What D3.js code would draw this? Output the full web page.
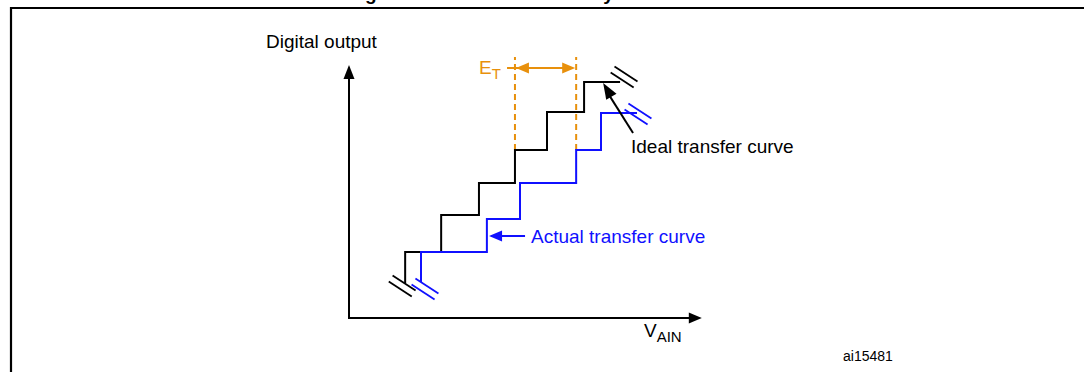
<!DOCTYPE html>
<html>
<head>
<meta charset="utf-8">
<script src="https://cdn.jsdelivr.net/npm/d3@7"></script>
<style>
  body { margin: 0; background: #fff; }
  text { font-family: "Liberation Sans", Arial, sans-serif; }
</style>
</head>
<body>
<div id="chart"></div>
<script>
// Transfer curve figure: ideal vs actual ADC curve, total error E_T

// Ideal curve (units: x in LSB of input, y in output codes)
const idealX = [1.56, 2.56, 3.61, 4.61, 5.5, 6.53, 7.53];
const idealY = [1.94, 3.03, 3.97, 4.94, 6.06, 6.94];
const idealStartY = 1.03;

// Actual curve
const actualX = [2.0, 3.83, 4.75, 6.31, 7.0, 8.0];
const actualY = [1.94, 2.91, 3.97, 4.94, 6.03];
const actualStartY = 1.06;

// E_T marker (two x positions), and the level it drops to
const errorX = [4.61, 6.31];
const errorLevel = 4.94;

// Labels
const yLabel = "Digital output";
const xLabel = "V";
const xLabelSub = "AIN";
const idealLabel = "Ideal transfer curve";
const actualLabel = "Actual transfer curve";
const errorLabel = "E";
const errorLabelSub = "T";
const figId = "ai15481";
const titleText = "Figure 9. Total error accuracy";

const black = "#000";
const blue = "#1010ff";
const orange = "#e8900c";

var svg = d3.select('#chart').append('svg')
    .attr('width', 1084)
    .attr('height', 372);

var x = d3.scaleLinear().domain([0, 10]).range([349, 709]);
var y = d3.scaleLinear().domain([0, 7]).range([318, 80]);

// Frame + title (only its descenders show, as in the source page)
svg.append("text")
    .attr("x", 348)
    .attr("y", -0.5)
    .attr("font-size", "19px")
    .attr("font-weight", "bold")
    .text(titleText);

svg.append("path")
    .attr("d", "M11,372V8H1084")
    .attr("fill", "none")
    .attr("stroke", black)
    .attr("stroke-width", 2.2);

// Arrow head helper (filled triangle, tip at x1,y1)
function arrowHead(g, x0, y0, x1, y1, len, half, color) {
    var a = Math.atan2(y1 - y0, x1 - x0);
    var bx = x1 - len * Math.cos(a), by = y1 - len * Math.sin(a);
    var px = -Math.sin(a) * half, py = Math.cos(a) * half;
    g.append("path")
        .attr("d", "M" + x1 + "," + y1 + "L" + (bx + px) + "," + (by + py) + "L" + (bx - px) + "," + (by - py) + "Z")
        .attr("fill", color);
}

// Break mark helper: two slanted parallel lines centered at cx,cy
function breakMark(g, cx, cy, color) {
    var dx = 11.5, dy = 7.5;
    [-3.5, 3.5].forEach(function(o) {
        g.append("line")
            .attr("x1", cx - dx - o * 0.55).attr("y1", cy - dy + o * 0.85)
            .attr("x2", cx + dx - o * 0.55).attr("y2", cy + dy + o * 0.85)
            .attr("stroke", color)
            .attr("stroke-width", 1.8);
    });
}

var g = svg.append("g");

// Axes
var yTop = 7.44, xRight = 9.8;
g.append("line")
    .attr("x1", x(0)).attr("y1", y(0))
    .attr("x2", x(0)).attr("y2", y(yTop) + 10)
    .attr("stroke", black).attr("stroke-width", 2);
arrowHead(g, x(0), y(0), x(0), y(yTop), 14, 5.5, black);

g.append("line")
    .attr("x1", x(0) - 1).attr("y1", y(0))
    .attr("x2", x(xRight) - 10).attr("y2", y(0))
    .attr("stroke", black).attr("stroke-width", 2);
arrowHead(g, x(0), y(0), x(xRight), y(0), 13, 5.5, black);

g.append("text")
    .attr("x", 266).attr("y", 48)
    .attr("font-size", "19px")
    .text(yLabel);

var vt = g.append("text")
    .attr("x", 644).attr("y", 337)
    .attr("font-size", "19px")
    .text(xLabel);
vt.append("tspan").attr("dy", 5).attr("font-size", "15px").text(xLabelSub);

g.append("text")
    .attr("x", 843).attr("y", 361)
    .attr("font-size", "14px")
    .text(figId);

// Build step path from arrays
function stepPath(xs, ys, startY) {
    var pts = [[xs[0], startY]];
    for (var i = 0; i < ys.length; i++) {
        pts.push([xs[i], ys[i]]);
        pts.push([xs[i + 1], ys[i]]);
    }
    return pts;
}

var line = d3.line()
    .x(function(d) { return x(d[0]); })
    .y(function(d) { return y(d[1]); });

var idealPts = stepPath(idealX, idealY, idealStartY);
var actualPts = stepPath(actualX, actualY, actualStartY);

// E_T dashed guides
errorX.forEach(function(v) {
    g.append("line")
        .attr("x1", x(v)).attr("y1", y(errorLevel))
        .attr("x2", x(v)).attr("y2", y(7.68))
        .attr("stroke", orange)
        .attr("stroke-width", 2)
        .attr("stroke-dasharray", "6,4");
});

g.append("path")
    .attr("d", line(idealPts))
    .attr("fill", "none")
    .attr("stroke", black)
    .attr("stroke-width", 2);

g.append("path")
    .attr("d", line(actualPts))
    .attr("fill", "none")
    .attr("stroke", blue)
    .attr("stroke-width", 2);

// Break marks at curve ends
var iS = idealPts[0], iE = idealPts[idealPts.length - 1];
var aS = actualPts[0], aE = actualPts[actualPts.length - 1];
breakMark(g, x(iS[0]) - 3, y(iS[1]) + 3, black);
breakMark(g, x(iE[0]) + 4, y(iE[1]) - 5, black);
breakMark(g, x(aS[0]) + 4, y(aS[1]) + 7, blue);
breakMark(g, x(aE[0]) + 1, y(aE[1]) + 1, blue);

// E_T double arrow
var ay = y(7.35);
g.append("line")
    .attr("x1", x(4.39)).attr("y1", ay)
    .attr("x2", x(errorX[1]) - 6).attr("y2", ay)
    .attr("stroke", orange).attr("stroke-width", 2);
arrowHead(g, x(errorX[1]), ay, x(errorX[0]) + 1, ay, 13, 5.5, orange);
arrowHead(g, x(errorX[0]), ay, x(errorX[1]) - 1, ay, 13, 5.5, orange);

var et = g.append("text")
    .attr("x", 479).attr("y", 74)
    .attr("font-size", "19px")
    .attr("fill", orange)
    .text(errorLabel);
et.append("tspan").attr("dy", 5).attr("font-size", "15px").text(errorLabelSub);

// Ideal annotation
g.append("line")
    .attr("x1", x(7.89)).attr("y1", y(5.44))
    .attr("x2", x(7.2)).attr("y2", y(6.6))
    .attr("stroke", black).attr("stroke-width", 2);
arrowHead(g, x(7.89), y(5.44), x(7.06), y(6.91), 16, 6, black);
g.append("text")
    .attr("x", 631).attr("y", 153)
    .attr("font-size", "19px")
    .text(idealLabel);

// Actual annotation
g.append("line")
    .attr("x1", x(4.89)).attr("y1", y(2.41))
    .attr("x2", x(3.95)).attr("y2", y(2.41))
    .attr("stroke", blue).attr("stroke-width", 2);
arrowHead(g, x(4.89), y(2.41), x(3.89), y(2.41), 13, 5.5, blue);
g.append("text")
    .attr("x", 531).attr("y", 243)
    .attr("font-size", "19px")
    .attr("fill", blue)
    .text(actualLabel);
</script>
</body>
</html>
